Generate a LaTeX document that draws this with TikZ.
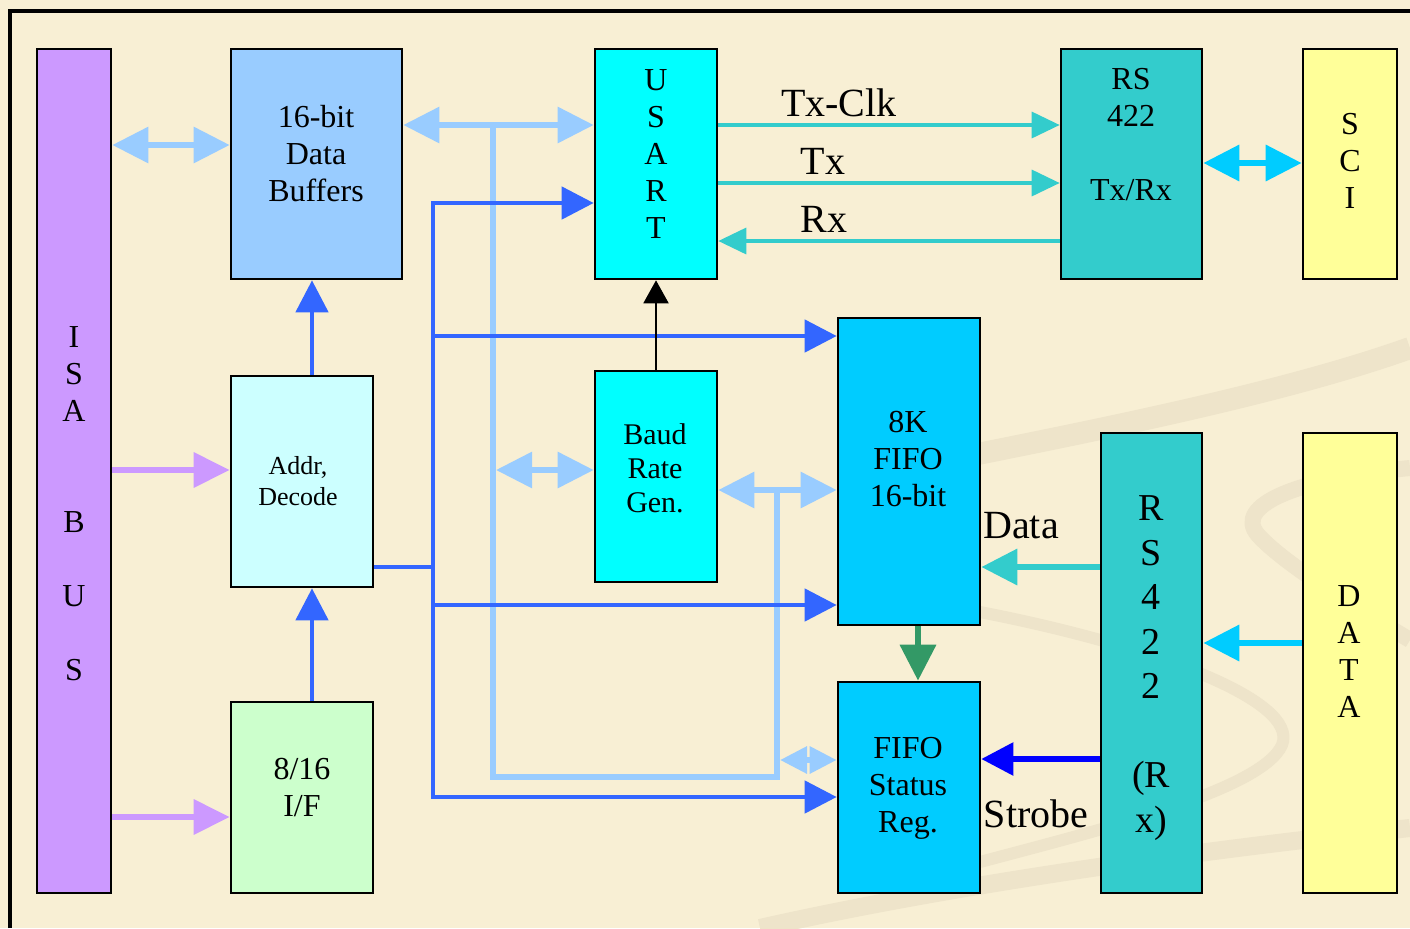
\documentclass[tikz,border=0pt]{standalone}
\usepackage{fontspec}
\setmainfont{Liberation Serif}
\usetikzlibrary{arrows.meta}

\definecolor{bgc}{HTML}{F8EFD4}
\definecolor{swirl}{HTML}{EEE4CA}
\definecolor{isac}{HTML}{CC99FF}
\definecolor{bufc}{HTML}{99CCFF}
\definecolor{usartc}{HTML}{00FFFF}
\definecolor{rsc}{HTML}{33CCCC}
\definecolor{scic}{HTML}{FFFF99}
\definecolor{addrc}{HTML}{CCFFFF}
\definecolor{fifoc}{HTML}{00CCFF}
\definecolor{ifc}{HTML}{CCFFCC}
\definecolor{bluec}{HTML}{3366FF}
\definecolor{grnc}{HTML}{339966}

\tikzset{
  box/.style={draw=black, line width=1.3pt, inner sep=0pt},
  txt/.style={align=center, inner sep=0pt, font=\fontsize{16}{18.5}\selectfont},
  lbl/.style={inner sep=0pt, font=\fontsize{20}{22}\selectfont},
  lbline/.style={draw=bufc, line width=3pt},
  lbdbl/.style={lbline, {Triangle[length=18pt,width=17.5pt]}-{Triangle[length=18pt,width=17.5pt]}},
  lbsmall/.style={lbline, {Triangle[length=13.5pt,width=13pt]}-{Triangle[length=13.5pt,width=13pt]}},
  barrow/.style={draw=bluec, line width=2.3pt, -{Triangle[length=16pt,width=16pt]}},
  parrow/.style={draw=isac, line width=3.3pt, -{Triangle[length=18pt,width=17pt]}},
  tarrow/.style={draw=rsc, line width=1.7pt, -{Triangle[length=14pt,width=13pt]}},
  sarrow/.style={line width=3.3pt, -{Triangle[length=18pt,width=17.5pt]}},
}

\begin{document}
\begin{tikzpicture}[x=0.5pt, y=-0.5pt]
  % page and frame
  \fill[bgc] (0,0) rectangle (1410,928);
  \useasboundingbox (0,0) rectangle (1410,928);
  \draw[line width=2pt] (9.5,928) -- (9.5,11) -- (1410,11);

  % background swirls
  \draw[swirl, line width=11pt] (840,482) .. controls (1000,448) and (1250,405) .. (1410,348);
  \draw[swirl, line width=8pt] (1410,468) .. controls (1300,478) and (1232,505) .. (1258,535)
        .. controls (1285,565) and (1360,610) .. (1410,640);
  \draw[swirl, line width=6pt] (980,612) .. controls (1150,645) and (1300,700) .. (1282,745)
        .. controls (1262,790) and (1100,830) .. (980,862);
  \draw[swirl, line width=9pt] (760,928) .. controls (950,885) and (1200,850) .. (1410,828);

  % blocks
  \node[box, fill=isac,   minimum width=37pt,   minimum height=422pt]   (isa)   at (74,471) {};
  \node[box, fill=bufc,   minimum width=85.5pt, minimum height=115pt]   (buf)   at (316.5,164) {};
  \node[box, fill=usartc, minimum width=61pt,   minimum height=115pt]   (usart) at (656,164) {};
  \node[box, fill=rsc,    minimum width=70.5pt, minimum height=115pt]   (rstx)  at (1131.5,164) {};
  \node[box, fill=scic,   minimum width=47pt,   minimum height=115pt]   (sci)   at (1350,164) {};
  \node[box, fill=addrc,  minimum width=71pt,   minimum height=105.5pt] (addr)  at (302,481.5) {};
  \node[box, fill=usartc, minimum width=61pt,   minimum height=105.5pt] (baud)  at (656,476.5) {};
  \node[box, fill=fifoc,  minimum width=71pt,   minimum height=153.5pt] (fifo)  at (909,471.5) {};
  \node[box, fill=rsc,    minimum width=50.5pt, minimum height=230pt]   (rsrx)  at (1151.5,663) {};
  \node[box, fill=scic,   minimum width=47pt,   minimum height=230pt]   (data)  at (1350,663) {};
  \node[box, fill=ifc,    minimum width=71pt,   minimum height=95.5pt]  (iff)   at (302,797.5) {};
  \node[box, fill=fifoc,  minimum width=71pt,   minimum height=105.5pt] (stat)  at (909,787.5) {};

  % block texts
  \node[txt] (isa-t)   at (74,504)   {I\\S\\A\\~\\~\\B\\~\\U\\~\\S};
  \node[txt] (buf-t)   at (316,154)  {16-bit\\Data\\Buffers};
  \node[txt] (usart-t) at (656,154)  {U\\S\\A\\R\\T};
  \node[txt] (rstx-t)  at (1131,135) {RS\\422\\~\\Tx/Rx};
  \node[txt] (sci-t)   at (1350,161) {S\\C\\I};
  \node[txt, font=\fontsize{13}{15.5}\selectfont] (addr-t) at (298,481) {Addr,\\Decode};
  \node[txt, font=\fontsize{15}{17}\selectfont]   (baud-t) at (655,468) {Baud\\Rate\\Gen.};
  \node[txt] (fifo-t)  at (908,459)  {8K\\FIFO\\16-bit};
  \node[txt] (stat-t)  at (908,788)  {FIFO\\Status\\Reg.};
  \node[txt] (iff-t)   at (302,788)  {8/16\\I/F};
  \node[txt, font=\fontsize{19}{22.25}\selectfont] (rsrx-t) at (1151,668) {R\\S\\4\\2\\2\\~\\(R\\x)};
  \node[txt] (data-t)  at (1349,652) {D\\A\\T\\A};

  % ISA side
  \draw[lbdbl] (isa.east |- 0,145) -- (buf.west |- 0,145);
  \draw[parrow] (isa.east |- 0,470) -- (addr.west |- 0,470);
  \draw[parrow] (isa.east |- 0,817) -- (iff.west |- 0,817);

  % local data bus
  \coordinate (dbus) at (493,125);
  \coordinate (dbend) at (777,490);
  \draw[lbline, line join=miter] (dbus) -- (493,777) -| (dbend);
  \draw[lbdbl] (buf.east |- dbus) -- (usart.west |- dbus);
  \draw[lbdbl] (496,470) -- (baud.west |- 0,470);
  \draw[lbdbl] (baud.east |- dbend) -- (fifo.west |- dbend);
  \draw[lbsmall] (780,760) -- (stat.west |- 0,760);

  % decode lines
  \draw[barrow] (312,0 |- iff.north) -- (312,0 |- addr.south);
  \draw[barrow] (312,0 |- addr.north) -- (312,0 |- buf.south);
  \coordinate (dec) at (433,567);
  \draw[draw=bluec, line width=2.3pt] (addr.east |- dec) -- (dec);
  \draw[barrow] (dec) |- (usart.west |- 0,203);
  \draw[barrow] (dec) |- (stat.west |- 0,797);
  \draw[barrow] (433,336) -- (fifo.west |- 0,336);
  \draw[barrow] (433,605) -- (fifo.west |- 0,605);

  % baud rate clock
  \draw[line width=1pt, -{Triangle[length=11.5pt,width=12.5pt]}] (baud.north) -- (usart.south);

  % serial side
  \draw[tarrow] (usart.east |- 0,125) -- (rstx.west |- 0,125);
  \draw[tarrow] (usart.east |- 0,183) -- (rstx.west |- 0,183);
  \draw[tarrow] (rstx.west |- 0,241) -- (usart.east |- 0,241);
  \node[lbl] (txclk-l) at (839,103) {Tx-Clk};
  \node[lbl] (tx-l)    at (823,161) {Tx};
  \node[lbl] (rx-l)    at (824,219) {Rx};
  \draw[sarrow, draw=fifoc, {Triangle[length=18pt,width=17.5pt]}-{Triangle[length=18pt,width=17.5pt]}]
       (rstx.east |- 0,163) -- (sci.west |- 0,163);

  % receive side
  \draw[sarrow, draw=grnc] (918,0 |- fifo.south) -- (918,0 |- stat.north);
  \draw[sarrow, draw=rsc] (rsrx.west |- 0,567) -- (fifo.east |- 0,567);
  \draw[sarrow, draw=blue, line width=2.8pt, -{Triangle[length=16pt,width=16pt]}] (rsrx.west |- 0,759) -- (stat.east |- 0,759);
  \draw[sarrow, draw=fifoc] (data.west |- 0,643) -- (rsrx.east |- 0,643);
  \node[lbl] (data-l)   at (1021,526) {Data};
  \node[lbl] (strobe-l) at (1036,814) {Strobe};
\end{tikzpicture}
\end{document}
